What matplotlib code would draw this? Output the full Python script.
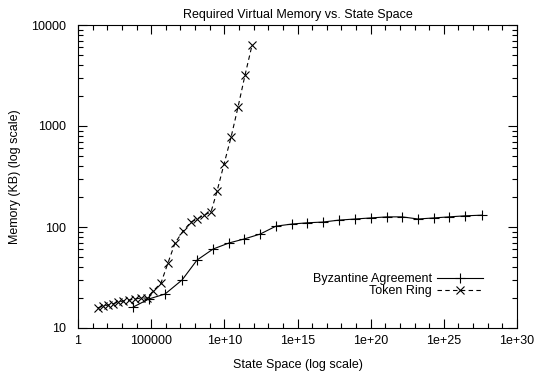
import matplotlib
matplotlib.use("Agg")
import matplotlib.pyplot as plt
from matplotlib.ticker import FixedLocator, FixedFormatter, NullFormatter

plt.rcParams['font.family'] = ['Liberation Sans', 'DejaVu Sans']

# Data (state space, memory in KB)
byz_states = [5.8e3, 7.1e4, 8.9e5, 1.3e7, 1.35e8, 1.7e9, 2.1e10, 2.2e11, 2.75e12,
              3.4e13, 4.3e14, 4.5e15, 5.6e16, 6.9e17, 8.5e18, 1.07e20, 1.3e21,
              1.4e22, 1.75e23, 2.1e24, 2.3e25, 2.8e26, 4.2e27]
byz_mem = [16.1, 19.4, 21.7, 29.9, 47, 60.5, 69.5, 76, 85, 102, 107, 110, 112,
           117, 120, 123, 126, 126, 120, 123, 126, 129, 131]

tr_states = [23, 51, 112, 245, 540, 1.2e3, 3.1e3, 7.9e3, 2.0e4, 5.2e4, 1.35e5,
             4.7e5, 1.4e6, 4.3e6, 1.5e7, 5.2e7, 1.35e8, 4.1e8, 1.23e9, 3.2e9,
             9.5e9, 2.9e10, 8.7e10, 2.6e11, 7.8e11]
tr_mem = [15.8, 16.5, 16.9, 17.3, 18.1, 18.5, 18.9, 19.4, 19.8, 19.8, 23.2, 27.9,
          44, 69.5, 91, 112, 120, 131, 141, 227, 420, 777, 1550, 3200, 6300]

x_ticks = [1.0, 1e5, 1e10, 1e15, 1e20, 1e25, 1e30]
x_labels = ["1", "100000", "1e+10", "1e+15", "1e+20", "1e+25", "1e+30"]
y_ticks = [10.0, 100.0, 1000.0, 10000.0]
y_labels = ["10", "100", "1000", "10000"]

FS = 9

fig = plt.figure(figsize=(5.35, 3.79), dpi=100)
ax = fig.add_axes([78/535, 1-328/379, (517-78)/535, (328-25)/379])

ax.plot(byz_states, byz_mem, color='black', lw=0.8, marker='+', ms=7, mew=0.8,
        label='Byzantine Agreement')
ax.plot(tr_states, tr_mem, color='black', lw=0.8, ls=(0, (4, 3)), marker='x',
        ms=6, mew=0.8, label='Token Ring')

ax.set_xscale('log')
ax.set_yscale('log')
ax.set_xlim(1, 1e30)
ax.set_ylim(10, 10000)

ax.xaxis.set_major_locator(FixedLocator(x_ticks))
ax.xaxis.set_major_formatter(FixedFormatter(x_labels))
ax.xaxis.set_minor_locator(FixedLocator([10.0**i for i in range(31) if i % 5]))
ax.xaxis.set_minor_formatter(NullFormatter())
ax.yaxis.set_major_locator(FixedLocator(y_ticks))
ax.yaxis.set_major_formatter(FixedFormatter(y_labels))
ax.yaxis.set_minor_locator(FixedLocator([m*10.0**e for e in range(1, 4) for m in range(2, 10)]))
ax.yaxis.set_minor_formatter(NullFormatter())

ax.tick_params(which='both', direction='in', top=True, right=True, width=0.8,
               labelsize=FS, colors='black')
ax.tick_params(which='major', length=6.5)
ax.tick_params(which='minor', length=3.5)
ax.tick_params(axis='y', which='major', pad=8.5)
ax.tick_params(axis='x', which='major', pad=5)
for s in ax.spines.values():
    s.set_linewidth(0.8)

ax.set_title('Required Virtual Memory vs. State Space', fontsize=FS, pad=5)
ax.set_xlabel('State Space (log scale)', fontsize=FS, labelpad=9)
ax.set_ylabel('Memory (KB) (log scale)', fontsize=FS, labelpad=7)

ax.legend(loc='lower right', bbox_to_anchor=((488-78)/439, 0.086), frameon=False,
          markerfirst=False, fontsize=FS, handlelength=3.7, handletextpad=0.4,
          labelspacing=0.0, numpoints=1, borderaxespad=0)

fig.savefig('out.png', dpi=100)
